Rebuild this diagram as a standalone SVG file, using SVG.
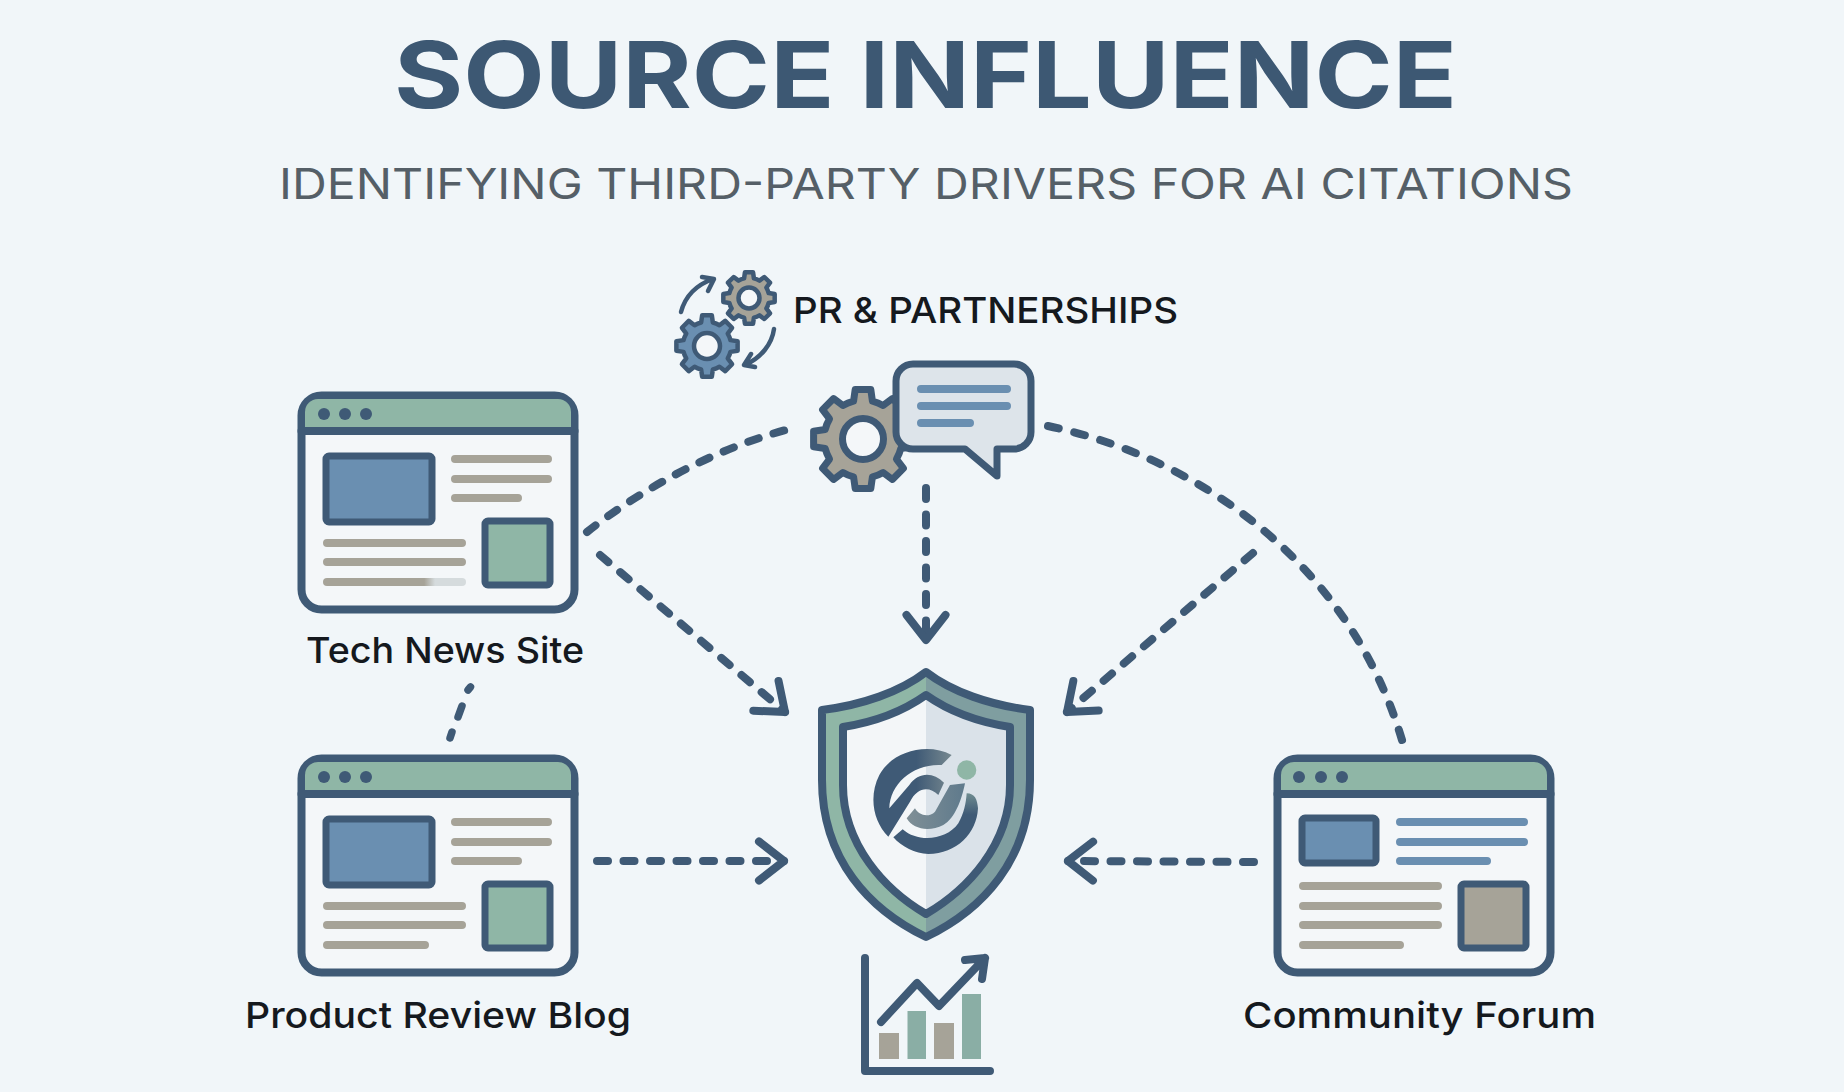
<svg xmlns="http://www.w3.org/2000/svg" width="1844" height="1092" viewBox="0 0 1844 1092">
<style>
text{font-family:Inter,"Liberation Sans",Arial,sans-serif}
.title{font-size:92px;font-weight:700;fill:#3d5873}
.sub{font-size:43px;font-weight:400;fill:#555f67}
.lbl{font-size:36px;font-weight:450;fill:#15191e}
.ol{stroke:#3f5a76;stroke-width:8;stroke-linejoin:round;stroke-linecap:round}
.win{fill:#f4f7f9}
.hdr{fill:#8fb6a6}
.pic{fill:#6a8fb1;stroke:#3f5a76;stroke-width:7;stroke-linejoin:round}
.sq{stroke:#3f5a76;stroke-width:7;stroke-linejoin:round}
.dot{fill:#3f5a76}
.gl{stroke:#a6a398;stroke-width:8;stroke-linecap:round;fill:none}
.bl{stroke:#6a8fb1;stroke-width:8;stroke-linecap:round;fill:none}
.dash{fill:none;stroke:#3f5a76;stroke-width:8;stroke-linecap:round;stroke-dasharray:11 15.5}
.solid{fill:none;stroke:#3f5a76;stroke-width:7.500;stroke-linecap:round}
.gear{vector-effect:non-scaling-stroke;stroke:#3f5a76;stroke-linejoin:round}
</style>
<defs>
<marker id="head" markerUnits="userSpaceOnUse" viewBox="-34 -26 40 52" refX="0" refY="0" markerWidth="40" markerHeight="52" orient="auto">
<path d="M-25,-19.500 L0,0 L-25,19.500" fill="none" stroke="#3f5a76" stroke-width="8" stroke-linecap="round" stroke-linejoin="round"/>
</marker>
<path id="gearShape" class="gear" d="M75.7,-18.9L98.8,-15.6L98.8,15.6L75.7,18.9A78,78 0 0 1 66.9,40.2L80.9,58.8L58.8,80.9L40.2,66.9A78,78 0 0 1 18.9,75.7L15.6,98.8L-15.6,98.8L-18.9,75.7A78,78 0 0 1 -40.2,66.9L-58.8,80.9L-80.9,58.8L-66.9,40.2A78,78 0 0 1 -75.7,18.9L-98.8,15.6L-98.8,-15.6L-75.7,-18.9A78,78 0 0 1 -66.9,-40.2L-80.9,-58.8L-58.8,-80.9L-40.2,-66.9A78,78 0 0 1 -18.9,-75.7L-15.6,-98.8L15.6,-98.8L18.9,-75.7A78,78 0 0 1 40.2,-66.9L58.8,-80.9L80.9,-58.8L66.9,-40.2A78,78 0 0 1 75.7,-18.9Z"/>
<clipPath id="rightHalf"><rect x="926" y="650" width="130" height="310"/></clipPath>
<path id="shOuter" d="M926,672C900,692 862,705 822,710L822,780C822,860 870,910 926,937C982,910 1030,860 1030,780L1030,710C990,705 952,692 926,672Z"/>
<path id="shInner" d="M926,695C902,712 875,722 843,727L843,785C843,845 885,890 926,914C967,890 1010,845 1010,785L1010,727C978,722 950,712 926,695Z"/>
<linearGradient id="logoA" x1="0" x2="1" y1="0" y2="0"><stop offset="0.55" stop-color="#3f5a76"/><stop offset="1" stop-color="#76888f"/></linearGradient>
<linearGradient id="logoB" x1="0" x2="1" y1="0" y2="0"><stop offset="0" stop-color="#7f8f96"/><stop offset="1" stop-color="#5f7a8c"/></linearGradient>
<linearGradient id="logoC" x1="0" x2="0" y1="0" y2="1"><stop offset="0" stop-color="#6f8c90"/><stop offset="0.35" stop-color="#3f5a76"/></linearGradient>
<linearGradient id="fade" gradientUnits="userSpaceOnUse" x1="327" x2="462" y1="0" y2="0"><stop offset="0.72" stop-color="#a6a398"/><stop offset="0.8" stop-color="#d5dbdd"/></linearGradient>
</defs>
<rect width="1844" height="1092" fill="#f1f6f9"/>
<g id="title">
<text class="title" x="394" y="108" textLength="1063" lengthAdjust="spacingAndGlyphs">SOURCE INFLUENCE</text>
<text class="sub" x="279" y="199" textLength="1294" lengthAdjust="spacingAndGlyphs">IDENTIFYING THIRD-PARTY DRIVERS FOR AI CITATIONS</text>
</g>
<g id="connectors">
<path class="dash" d="M587,532C640,490 720,445 798,427"/>
<path class="dash" style="stroke-dasharray:11 16" d="M1048,426C1200,458 1350,565 1402,740"/>
<path class="dash" d="M600,555L785,712" marker-end="url(#head)"/>
<path class="dash" d="M926,488L926,640" marker-end="url(#head)"/>
<path class="dash" d="M1253,553L1067,712" marker-end="url(#head)"/>
<path class="dash" d="M597,861L784,861" marker-end="url(#head)"/>
<path class="dash" d="M1254,862L1068,861" marker-end="url(#head)"/>
<path class="solid" d="M470.500,687L468,690M462,706L458,717M452,732L450,738"/>
</g>
<g id="node-tech-news">
<rect class="win ol" x="301.500" y="395.500" width="273" height="214" rx="20"/>
<path class="hdr" d="M305,431V412a13,13 0 0 1 13,-13H558a13,13 0 0 1 13,13V431Z"/>
<path class="ol" d="M301.500,431H574.500" fill="none"/>
<circle class="dot" cx="324" cy="414" r="6"/><circle class="dot" cx="345" cy="414" r="6"/><circle class="dot" cx="366" cy="414" r="6"/>
<rect class="pic" x="326" y="456" width="106" height="66" rx="3"/>
<path class="gl" d="M455,459H548M455,479H548M455,498H518M327,543H462M327,562H462"/>
<path d="M327,582H462" fill="none" stroke="url(#fade)" stroke-width="8" stroke-linecap="round"/>
<rect class="sq" x="485" y="521" width="65" height="64" rx="3" fill="#8fb6a6"/>
<text class="lbl" x="306" y="663" textLength="278" lengthAdjust="spacingAndGlyphs">Tech News Site</text>
</g>
<g id="node-review-blog">
<rect class="win ol" x="301.500" y="758.500" width="273" height="214" rx="20"/>
<path class="hdr" d="M305,794V775a13,13 0 0 1 13,-13H558a13,13 0 0 1 13,13V794Z"/>
<path class="ol" d="M301.500,794H574.500" fill="none"/>
<circle class="dot" cx="324" cy="777" r="6"/><circle class="dot" cx="345" cy="777" r="6"/><circle class="dot" cx="366" cy="777" r="6"/>
<rect class="pic" x="326" y="819" width="106" height="66" rx="3"/>
<path class="gl" d="M455,822H548M455,842H548M455,861H518M327,906H462M327,925H462M327,945H425"/>
<rect class="sq" x="485" y="884" width="65" height="64" rx="3" fill="#8fb6a6"/>
<text class="lbl" x="245" y="1028" textLength="386" lengthAdjust="spacingAndGlyphs">Product Review Blog</text>
</g>
<g id="node-community-forum">
<rect class="win ol" x="1277.500" y="758.500" width="273" height="214" rx="20"/>
<path class="hdr" d="M1281,794V775a13,13 0 0 1 13,-13H1534a13,13 0 0 1 13,13V794Z"/>
<path class="ol" d="M1277.500,794H1550.500" fill="none"/>
<circle class="dot" cx="1299" cy="777" r="6"/><circle class="dot" cx="1321" cy="777" r="6"/><circle class="dot" cx="1342" cy="777" r="6"/>
<rect class="pic" x="1302" y="818" width="74" height="45" rx="3"/>
<path class="bl" d="M1400,822H1524M1400,842H1524M1400,861H1487"/>
<path class="gl" d="M1303,886H1438M1303,906H1438M1303,925H1438M1303,945H1400"/>
<rect class="sq" x="1461" y="884" width="65" height="64" rx="3" fill="#a6a398"/>
<text class="lbl" x="1243" y="1028" textLength="353" lengthAdjust="spacingAndGlyphs">Community Forum</text>
</g>
<g id="node-pr-partnerships">
<use href="#gearShape" transform="translate(749,298) scale(.26)" fill="#a6a398" stroke-width="4.500"/>
<circle cx="749" cy="298" r="10.500" fill="#f4f7f9" stroke="#3f5a76" stroke-width="4.500"/>
<use href="#gearShape" transform="translate(707,346) scale(.31)" fill="#6a8fb1" stroke-width="4.500"/>
<circle cx="707" cy="346" r="13" fill="#f4f7f9" stroke="#3f5a76" stroke-width="4.500"/>
<path d="M681,312C685,297 696,285 713,279M702,277L714,279L708,291" fill="none" stroke="#3f5a76" stroke-width="4.500" stroke-linecap="round" stroke-linejoin="round"/>
<path d="M774,329C772,344 761,358 745,365M755,367L744,365L751,354" fill="none" stroke="#3f5a76" stroke-width="4.500" stroke-linecap="round" stroke-linejoin="round"/>
<text class="lbl" x="793" y="323" textLength="385" lengthAdjust="spacingAndGlyphs">PR &amp; PARTNERSHIPS</text>
<use href="#gearShape" transform="translate(863,439) scale(.5)" fill="#a6a398" stroke-width="7"/>
<circle cx="863" cy="439" r="20.500" fill="#f4f7f9" stroke="#3f5a76" stroke-width="7"/>
<path d="M913,364H1014a17,17 0 0 1 17,17V432a17,17 0 0 1 -17,17H997V476L965,449H913a17,17 0 0 1 -17,-17V381a17,17 0 0 1 17,-17Z" fill="#dde4ea" stroke="#3f5a76" stroke-width="7" stroke-linejoin="round"/>
<path class="bl" d="M921,389H1007M921,406H1007M921,423H970"/>
</g>
<g id="node-shield">
<use href="#shOuter" fill="#8fb6a6"/>
<use href="#shOuter" fill="#7f9ea0" clip-path="url(#rightHalf)"/>
<use href="#shOuter" fill="none" class="ol"/>
<use href="#shInner" fill="#f3f6f8"/>
<use href="#shInner" fill="#dae2e9" clip-path="url(#rightHalf)"/>
<use href="#shInner" fill="none" class="ol"/>
<g transform="translate(860,730) scale(.33333)">
<path fill="url(#logoA)" d="M275,75C200,35 95,65 58,135C25,200 40,275 85,320L150,215C170,175 205,165 235,195L252,158C220,125 175,125 148,165L88,235C90,160 160,100 245,105Z"/>
<path fill="url(#logoB)" d="M140,265L165,235C175,255 205,265 225,245L270,165L315,160C305,210 285,265 250,285C210,305 160,300 140,265Z"/>
<path fill="url(#logoC)" d="M100,322L128,298C175,340 260,330 295,280C312,250 318,220 320,190C345,190 352,210 354,235C350,310 290,372 205,372C165,372 125,350 100,322Z"/>
<circle cx="320" cy="120" r="29" fill="#8fb6a6"/>
</g>
</g>
<g id="node-chart">
<rect x="879" y="1033" width="20" height="26" fill="#a6a398"/>
<rect x="907.500" y="1011" width="18.500" height="48" fill="#8aaea5"/>
<rect x="934" y="1023" width="20" height="36" fill="#a6a398"/>
<rect x="962" y="994" width="19" height="65" fill="#8aaea5"/>
<path d="M865,958V1071H990" fill="none" class="ol"/>
<path d="M881,1022L917,983L939,1006L985,958M965,960L985,958L982,979" fill="none" class="ol"/>
</g>
</svg>
